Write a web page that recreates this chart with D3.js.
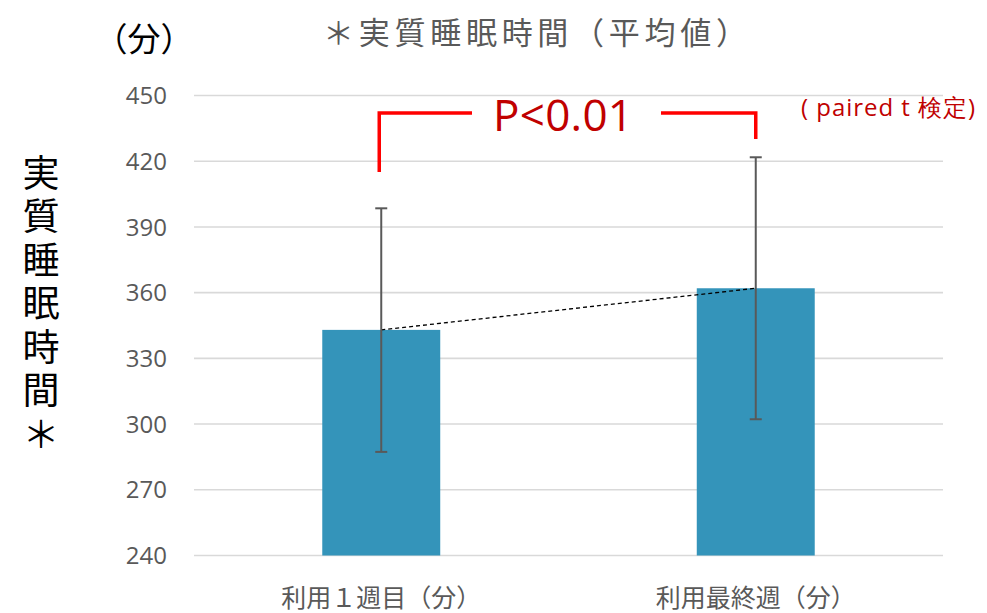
<!DOCTYPE html>
<html><head><meta charset="utf-8">
<script src="https://cdn.jsdelivr.net/npm/d3@7"></script>
<style>
body{margin:0;background:#fff;}
svg{display:block;}
</style></head>
<body>
<svg id="chart" width="987" height="613"></svg>
<script>
const categories = ["利用１週目（分）", "利用最終週（分）"];
const means = [343, 362];
const errUpper = [398.5, 421.8];
const errLower = [287.3, 302.2];
const yTicks = [240, 270, 300, 330, 360, 390, 420, 450];
const titleText = "＊実質睡眠時間（平均値）";
const unitText = "（分）";
const yTitleText = "実質睡眠時間＊";
const pText = "P<0.01";
const testText = "( paired t 検定)";

const svg = d3.select("#chart");
const jp = "'Noto Sans CJK JP', 'Noto Sans', sans-serif";
const num = "'Open Sans', 'Noto Sans', sans-serif";
const gray = "#595959";

const x = d3.scaleBand().domain(categories).range([194, 943]).padding(0);
const y = d3.scaleLinear().domain([240, 450]).range([555.5, 95.5]);
const barW = x.bandwidth() * 0.315;

// gridlines
svg.append("g").selectAll("line").data(yTicks).join("line")
  .attr("x1", 194).attr("x2", 943)
  .attr("y1", d => y(d)).attr("y2", d => y(d))
  .attr("stroke", "#d9d9d9").attr("stroke-width", 1.6);

// y tick labels
svg.append("g").selectAll("text").data(yTicks).join("text")
  .attr("x", 167).attr("y", d => y(d)).attr("dy", "0.36em")
  .attr("text-anchor", "end").attr("font-family", num).attr("font-size", 24)
  .attr("fill", gray).text(d => d);

// bars
const cx = i => x(categories[i]) + x.bandwidth() / 2;
svg.append("g").selectAll("rect").data(means).join("rect")
  .attr("x", (d, i) => cx(i) - barW / 2).attr("width", barW)
  .attr("y", d => y(d)).attr("height", d => y(240) - y(d))
  .attr("fill", "#3494BA");

// dashed connecting line
svg.append("line")
  .attr("x1", cx(0)).attr("y1", y(means[0]))
  .attr("x2", cx(1)).attr("y2", y(means[1]))
  .attr("stroke", "#000").attr("stroke-width", 1.3).attr("stroke-dasharray", "4,3");

// error bars
const eg = svg.append("g").attr("stroke", gray).attr("stroke-width", 2);
means.forEach((m, i) => {
  eg.append("line").attr("x1", cx(i)).attr("x2", cx(i)).attr("y1", y(errUpper[i])).attr("y2", y(errLower[i]));
  eg.append("line").attr("x1", cx(i) - 6).attr("x2", cx(i) + 6).attr("y1", y(errUpper[i])).attr("y2", y(errUpper[i]));
  eg.append("line").attr("x1", cx(i) - 6).attr("x2", cx(i) + 6).attr("y1", y(errLower[i])).attr("y2", y(errLower[i]));
});

// x category labels
svg.append("g").selectAll("text").data(categories).join("text")
  .attr("x", (d, i) => cx(i)).attr("y", 607)
  .attr("text-anchor", "middle").attr("font-family", jp).attr("font-size", 25)
  .attr("fill", gray).text(d => d);

// title
svg.append("text").attr("x", 535).attr("y", 44).attr("text-anchor", "middle")
  .attr("font-family", jp).attr("font-size", 31).attr("fill", gray)
  .attr("textLength", 424).attr("lengthAdjust", "spacing").text(titleText);

// unit
svg.append("text").attr("x", 144).attr("y", 51).attr("text-anchor", "middle")
  .attr("font-family", jp).attr("font-size", 33).attr("fill", "#000").text(unitText);

// y axis title vertical
svg.append("text").attr("x", 41).attr("y", 154)
  .attr("font-family", jp).attr("font-size", 37).attr("fill", "#000")
  .style("writing-mode", "vertical-rl").style("letter-spacing", "6.5px")
  .text(yTitleText);

// significance bracket
const red = "#ff0000";
const bracketY = 113;
const bg = svg.append("g").attr("stroke", red).attr("stroke-width", 3.5).attr("fill", "none");
bg.append("path").attr("d", `M${cx(0) - 2},172 V${bracketY} H472`);
bg.append("path").attr("d", `M661,${bracketY} H${cx(1)} V139`);

svg.append("text").attr("x", 563).attr("y", 131).attr("text-anchor", "middle")
  .attr("font-family", num).attr("font-size", 44).attr("fill", "#c00000")
  .attr("textLength", 140).attr("lengthAdjust", "spacing").text(pText);

svg.append("text").attr("x", 801).attr("y", 116)
  .attr("font-family", num).attr("font-size", 24).attr("fill", "#c00000")
  .attr("textLength", 174).attr("lengthAdjust", "spacing").text(testText);
</script>
</body></html>
